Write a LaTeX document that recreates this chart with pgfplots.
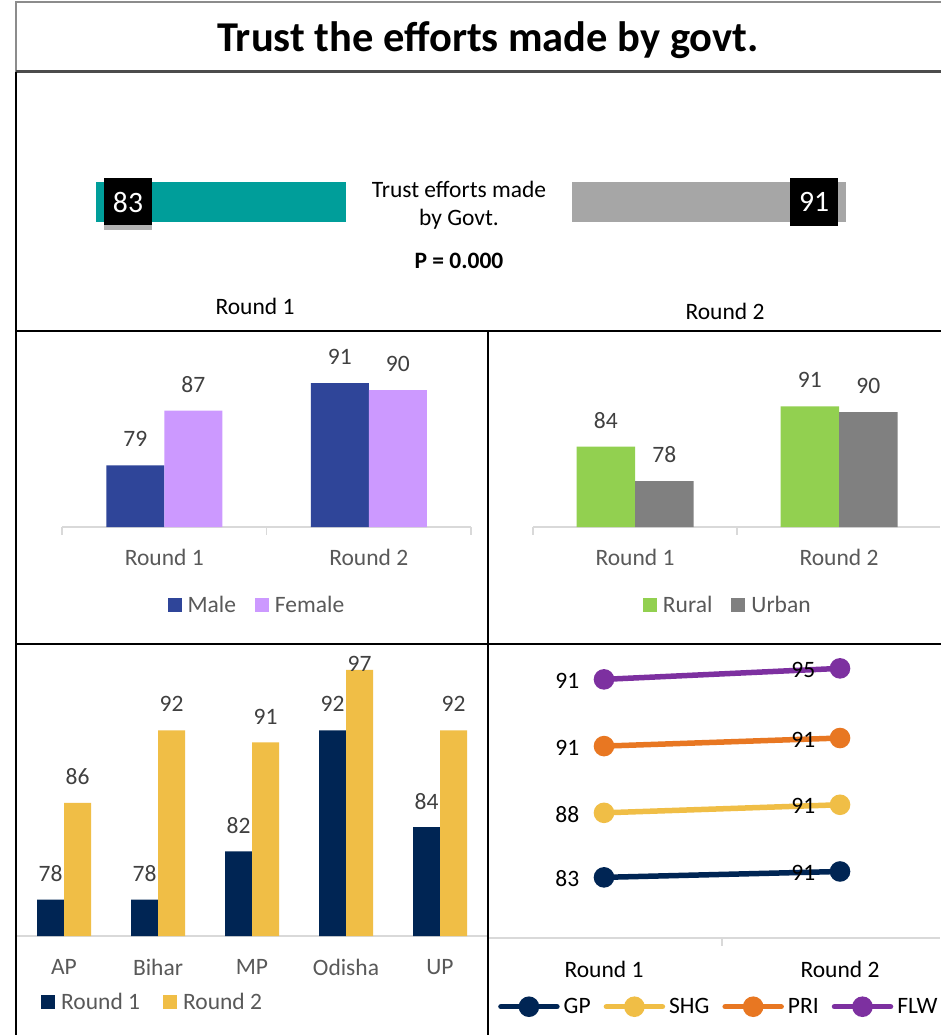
\documentclass[border=0pt]{standalone}
\usepackage{pgfplots}
\pgfplotsset{compat=1.18}
\usepackage{fontspec}
\setmainfont{Carlito}
\usetikzlibrary{shadows}
\definecolor{teal1}{RGB}{0,158,154}
\definecolor{gray1}{RGB}{166,166,166}
\definecolor{male}{RGB}{47,69,153}
\definecolor{female}{RGB}{204,153,255}
\definecolor{rural}{RGB}{146,208,80}
\definecolor{urban}{RGB}{128,128,128}
\definecolor{navy}{RGB}{0,37,84}
\definecolor{gold}{RGB}{240,190,70}
\definecolor{orange1}{RGB}{232,119,34}
\definecolor{purple1}{RGB}{125,48,160}
\definecolor{txtgray}{RGB}{89,89,89}
\definecolor{lblgray}{RGB}{64,64,64}
\definecolor{axgray}{RGB}{217,217,217}
\definecolor{titlegray}{RGB}{140,140,140}
\newcommand\chartfont{\fontsize{23.5}{28}\selectfont}
\pgfplotsset{
  /pgf/number format/assume math mode=true,
  barbase/.style={
    scale only axis, anchor=south west, clip=false,
    axis line style={draw=none}, ytick=\empty, major tick length=0pt,
    xticklabel style={font=\chartfont, text=txtgray, inner sep=0pt, anchor=north, yshift=-22pt},
    nodes near coords,
    every node near coord/.append style={font=\chartfont, text=lblgray, inner sep=0pt, anchor=center, yshift=26pt},
    legend image code/.code={\fill[##1] (0pt,-7pt) rectangle (14pt,7pt);},
  },
}
\begin{document}
\begin{tikzpicture}
\useasboundingbox (0pt,0pt) rectangle (940pt,-1035pt);
\fill[white] (0pt,0pt) rectangle (940pt,-1035pt);

% ---------- title ----------
\node[font=\fontsize{42.5}{50}\selectfont\bfseries, anchor=base] at (488pt,-52pt) {Trust the efforts made by govt.};

% ---------- top panel ----------
\begin{axis}[at={(44.8pt,-252pt)}, anchor=south west, scale only axis,
  width=301.2pt, height=100pt, hide axis, clip=false,
  xbar, bar width=40pt, xmin=0, xmax=100, ymin=-1, ymax=1, x dir=reverse,
  nodes near coords,
  every node near coord/.append style={anchor=center, xshift=32pt, fill=black, text=white,
    font=\fontsize{29.6}{32}\selectfont, minimum width=48pt, minimum height=47pt, inner sep=0pt,
    drop shadow={shadow xshift=0pt, shadow yshift=-5pt, opacity=0.3, fill=black}}]
\addplot[fill=teal1, draw=none] coordinates {(83,0)};
\end{axis}
\begin{axis}[at={(572pt,-252pt)}, anchor=south west, scale only axis,
  width=301.2pt, height=100pt, hide axis, clip=false,
  xbar, bar width=40pt, xmin=0, xmax=100, ymin=-1, ymax=1,
  nodes near coords,
  every node near coord/.append style={anchor=center, xshift=-32pt, fill=black, text=white,
    font=\fontsize{29.6}{32}\selectfont, minimum width=48pt, minimum height=48pt, inner sep=0pt}]
\addplot[fill=gray1, draw=none] coordinates {(91,0)};
\end{axis}
\node[font=\chartfont, anchor=base] at (459pt,-197pt) {Trust efforts made};
\node[font=\chartfont, anchor=base] at (459pt,-225pt) {by Govt.};
\node[font=\chartfont\bfseries, anchor=base] at (459pt,-268pt) {P = 0.000};
\node[font=\chartfont, anchor=base] at (255pt,-314pt) {Round 1};
\node[font=\chartfont, anchor=base] at (725pt,-319pt) {Round 2};

% ---------- middle left: gender ----------
\draw[axgray, line width=1.5pt] (62pt,-527pt) -- (471pt,-527pt);
\draw[axgray, line width=1.5pt] (62pt,-527pt) -- (62pt,-535pt);
\draw[axgray, line width=1.5pt] (266.5pt,-527pt) -- (266.5pt,-535pt);
\draw[axgray, line width=1.5pt] (471pt,-527pt) -- (471pt,-535pt);
\begin{axis}[barbase, at={(62pt,-527pt)}, width=409pt, height=191.8pt,
  xmin=-0.5, xmax=1.5, ymin=70, ymax=98, ybar=0pt, bar width=58pt,
  xtick={0,1}, xticklabels={Round 1,Round 2},
  legend columns=2,
  legend style={at={(0.474,-0.407)}, anchor=center, draw=none, fill=none, font=\chartfont, text=txtgray,
    inner sep=0pt, nodes={inner sep=0pt},
    /tikz/every odd column/.append style={column sep=6pt},
    /tikz/every even column/.append style={column sep=19pt}},
  legend image code/.code={\fill[#1] (0pt,-7pt) rectangle (14pt,7pt);}]
\addplot[fill=male, draw=none] coordinates {(0,79) (1,91)};
\addplot[fill=female, draw=none] coordinates {(0,87) (1,90)};
\legend{Male,Female}
\end{axis}

% ---------- middle right: locality ----------
\draw[axgray, line width=1.5pt] (533pt,-527pt) -- (940pt,-527pt);
\draw[axgray, line width=1.5pt] (533pt,-527pt) -- (533pt,-535pt);
\draw[axgray, line width=1.5pt] (737pt,-527pt) -- (737pt,-535pt);
\begin{axis}[barbase, at={(533pt,-527pt)}, width=408pt, height=189.75pt,
  xmin=-0.5, xmax=1.5, ymin=70, ymax=103, ybar=0pt, bar width=58.5pt,
  xtick={0,1}, xticklabels={Round 1,Round 2},
  legend columns=2,
  legend style={at={(0.475,-0.411)}, anchor=center, draw=none, fill=none, font=\chartfont, text=txtgray,
    inner sep=0pt, nodes={inner sep=0pt},
    /tikz/every odd column/.append style={column sep=6pt},
    /tikz/every even column/.append style={column sep=19pt}},
  legend image code/.code={\fill[#1] (0pt,-7pt) rectangle (14pt,7pt);}]
\addplot[fill=rural, draw=none] coordinates {(0,84) (1,91)};
\addplot[fill=urban, draw=none] coordinates {(0,78) (1,90)};
\legend{Rural,Urban}
\end{axis}

% ---------- bottom left: states ----------
\draw[axgray, line width=1.5pt] (17pt,-936pt) -- (487pt,-936pt);
\begin{axis}[barbase, at={(17pt,-936pt)}, width=470pt, height=290.4pt,
  xmin=-0.5, xmax=4.5, ymin=75, ymax=99, ybar=0pt, bar width=27pt,
  xtick={0,1,2,3,4}, xticklabels={AP,Bihar,MP,Odisha,UP},
  xticklabel style={yshift=-1pt},
  legend columns=2,
  legend style={at={(0.051,-0.227)}, anchor=west, draw=none, fill=none, font=\chartfont, text=txtgray,
    inner sep=0pt, nodes={inner sep=0pt},
    /tikz/every odd column/.append style={column sep=6pt},
    /tikz/every even column/.append style={column sep=23pt}},
  legend image code/.code={\fill[#1] (0pt,-7pt) rectangle (14pt,7pt);}]
\addplot[fill=navy, draw=none] coordinates {(0,78) (1,78) (2,82) (3,92) (4,84)};
\addplot[fill=gold, draw=none, visualization depends on={value \thisrow{dy} \as \dy},
  every node near coord/.append style={yshift=\dy pt}] table[x=x, y=y] {
x y dy
0 86 0
1 92 0
2 91 0
3 97 -20
4 92 0
};
\legend{Round 1,Round 2}
\end{axis}

% ---------- bottom right: functionaries (stacked lines) ----------
\draw[axgray, line width=1.5pt] (488pt,-938pt) -- (940pt,-938pt);
\draw[axgray, line width=1.5pt] (722pt,-938pt) -- (722pt,-946pt);
\begin{axis}[at={(486pt,-938.2pt)}, anchor=south west, scale only axis, clip=false,
  width=472pt, height=293.3pt, xmin=-0.5, xmax=1.5, ymin=0, ymax=400,
  axis line style={draw=none}, ytick=\empty, major tick length=0pt,
  xtick={0,1}, xticklabels={Round 1,Round 2},
  xticklabel style={font=\chartfont, text=black, inner sep=0pt, anchor=north, yshift=-23pt},
  stack plots=y, point meta=explicit symbolic, nodes near coords,
  every node near coord/.append style={font=\chartfont, text=black, inner sep=0pt, anchor=east, xshift=-22pt, yshift=-1.5pt},
  every axis plot/.append style={line width=5.5pt, line cap=round, mark=*, mark size=7.5pt},
  legend columns=4,
  legend style={at={(0.0254,-0.2336)}, anchor=west, draw=none, fill=none, font=\chartfont, text=black,
    inner sep=0pt, nodes={inner sep=0pt},
    /tikz/every odd column/.append style={column sep=4pt},
    /tikz/every even column/.append style={column sep=13pt}},
  legend image code/.code={\draw[mark repeat=2, mark phase=2, #1] plot coordinates {(0pt,0pt) (28pt,0pt) (56pt,0pt)};}]
\addplot[navy, mark options={fill=navy, draw=none}] coordinates {(0,83) [83] (1,91) [91]};
\addplot[gold, mark options={fill=gold, draw=none}] coordinates {(0,88) [88] (1,91) [91]};
\addplot[orange1, mark options={fill=orange1, draw=none}] coordinates {(0,91) [91] (1,91) [91]};
\addplot[purple1, mark options={fill=purple1, draw=none}] coordinates {(0,91) [91] (1,95) [95]};
\legend{GP,SHG,PRI,FLW}
\end{axis}

% ---------- frames ----------
\draw[titlegray, line width=2pt] (16pt,-72pt) -- (16pt,-2pt) -- (941pt,-2pt);
\draw[black!70, line width=3pt] (16pt,-72pt) -- (941pt,-72pt);
\draw[black, line width=2.5pt] (16pt,-72pt) -- (16pt,-1036pt);
\draw[black, line width=2.5pt] (15pt,-331pt) -- (941pt,-331pt);
\draw[black, line width=2.5pt] (488pt,-331pt) -- (488pt,-1036pt);
\draw[black, line width=2.5pt] (15pt,-644pt) -- (941pt,-644pt);
\end{tikzpicture}
\end{document}
